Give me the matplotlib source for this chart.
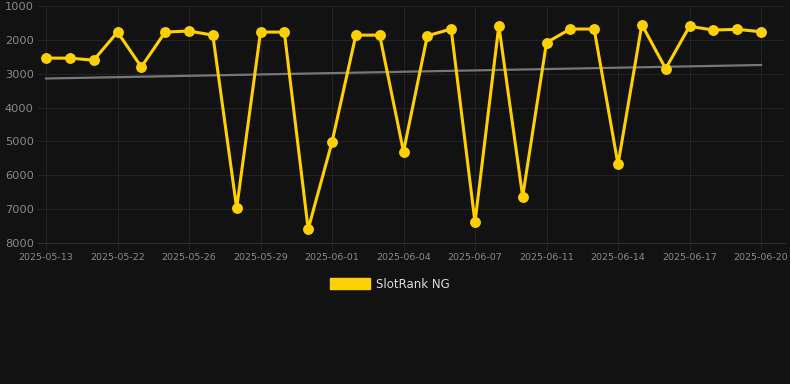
import numpy as np
import matplotlib
matplotlib.use("Agg")
import matplotlib.pyplot as plt

dates = [
    "2025-05-13", "2025-05-20", "2025-05-21", "2025-05-22", "2025-05-23",
    "2025-05-25", "2025-05-26", "2025-05-27", "2025-05-28", "2025-05-29",
    "2025-05-30", "2025-05-31", "2025-06-01", "2025-06-02", "2025-06-03",
    "2025-06-04", "2025-06-05", "2025-06-06", "2025-06-07", "2025-06-08",
    "2025-06-10", "2025-06-11", "2025-06-12", "2025-06-13", "2025-06-14",
    "2025-06-15", "2025-06-16", "2025-06-17", "2025-06-18", "2025-06-19",
    "2025-06-20",
]
ranks = [
    2540, 2540, 2600, 1770, 2800, 1770, 1740, 1860, 6970, 1770,
    1770, 7590, 5020, 1860, 1860, 5300, 1880, 1680, 7390, 1580,
    6630, 2080, 1680, 1680, 5680, 1550, 2850, 1600, 1710, 1690,
    1760,
]
yticks = [1000, 2000, 3000, 4000, 5000, 6000, 7000, 8000]

bg = "#121212"
grid_col = "#232323"
text_col = "#8a8a8a"
gold = "#FFD000"

fig = plt.figure(figsize=(7.9, 3.84), dpi=100, facecolor=bg)
ax = fig.add_axes([38 / 790, (384 - 243) / 384, (785 - 38) / 790, 237 / 384])
ax.set_facecolor(bg)

x = np.arange(len(ranks))
step = 715 / 30
ax.set_xlim(-8 / step, 30 + 24 / step)
ax.set_ylim(8000, 1000)

# trend line
coef = np.polyfit(x, ranks, 1)
ax.plot([x[0], x[-1]], np.polyval(coef, [x[0], x[-1]]), color="#777777", lw=1.6, zorder=2)

ax.plot(x, ranks, color=gold, lw=2.2, marker="o", ms=6.8, solid_joinstyle="miter",
        zorder=3, label="SlotRank NG")

ax.set_yticks(yticks)
ax.set_yticklabels([str(v) for v in yticks])
ax.set_xticks(x[::3])
ax.set_xticklabels(dates[::3])
ax.grid(True, color=grid_col, lw=0.8)
ax.tick_params(axis="y", length=0, pad=3, labelcolor=text_col, labelsize=8.2)
ax.tick_params(axis="x", length=5, color=grid_col, pad=2, labelcolor=text_col, labelsize=6.8)
for s in ["top", "right", "left"]:
    ax.spines[s].set_visible(False)
ax.spines["bottom"].set_color("#303030")

leg = fig.legend(
    handles=[plt.Rectangle((0, 0), 1, 1, color=gold)],
    labels=["SlotRank NG"],
    loc="center", bbox_to_anchor=(390 / 790, 1 - 284 / 384),
    frameon=False, handlelength=3.4, handleheight=1.1, handletextpad=0.5,
    fontsize=8.5, labelcolor="#dddddd",
)

fig.savefig("out.png", dpi=100, facecolor=bg)
